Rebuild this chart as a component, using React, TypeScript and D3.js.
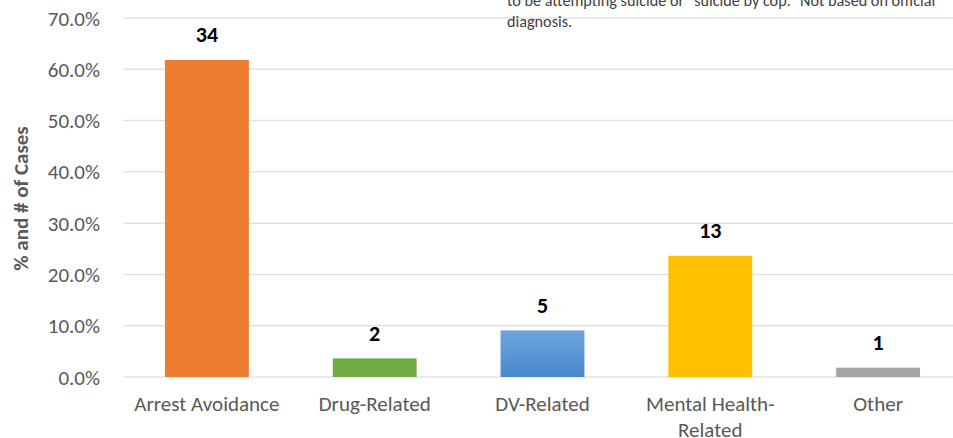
import React from "react";
import * as d3 from "d3";

const categories = ["Arrest Avoidance", "Drug-Related", "DV-Related", "Mental Health-Related", "Other"];
const categoryLines = [["Arrest Avoidance"], ["Drug-Related"], ["DV-Related"], ["Mental Health-", "Related"], ["Other"]];
const counts = [34, 2, 5, 13, 1];
const totalCases = 55;
const percents = counts.map((c) => (c / totalCases) * 100);
const yTicks = [0, 10, 20, 30, 40, 50, 60, 70];
const barColors = ["#ED7D31", "#70AD47", "url(#blueGrad)", "#FFC000", "#A5A5A5"];
const noteLines = ["to be attempting suicide or \u201Csuicide by cop.\u201D  Not based on official", "diagnosis."];
const yTitle = "% and # of Cases";

const W = 953;
const H = 438;
const FONT = "Carlito, Calibri, Lato, sans-serif";

export default function App() {
  const x = d3.scaleBand<string>().domain(categories).range([123, 962]).paddingInner(0.5).paddingOuter(0.25);
  const y = d3.scaleLinear().domain([0, 70]).range([377, 18]);

  return (
    <svg width={W} height={H} style={{ position: "absolute", left: 0, top: 0, background: "#fff" }}>
      <defs>
        <linearGradient id="blueGrad" x1="0" y1="0" x2="0" y2="1">
          <stop offset="0" stopColor="#6FA6DC" />
          <stop offset="1" stopColor="#4888CD" />
        </linearGradient>
      </defs>
      <rect x={0} y={0} width={W} height={H} fill="#fff" />
      {yTicks.map((t) => (
        <g key={t}>
          <line x1={123} x2={W} y1={y(t)} y2={y(t)} stroke="#DFE2E6" strokeWidth={1.5} />
          <text x={100} y={y(t)} dy="0.36em" textAnchor="end" fontFamily={FONT} fontSize={21} fill="#595959">
            {t.toFixed(1) + "%"}
          </text>
        </g>
      ))}
      {categories.map((c, i) => (
        <g key={c}>
          <rect x={x(c)} y={y(percents[i])} width={x.bandwidth()} height={y(0) - y(percents[i])} fill={barColors[i]} />
          <text x={(x(c) as number) + x.bandwidth() / 2} y={y(percents[i]) - 17.5} textAnchor="middle" fontFamily={FONT} fontSize={22} fontWeight="bold" fill="#000">
            {counts[i]}
          </text>
          {categoryLines[i].map((ln, j) => (
            <text key={j} x={(x(c) as number) + x.bandwidth() / 2} y={403.5 + j * 25.5} dy="0.36em" textAnchor="middle" fontFamily={FONT} fontSize={21} fill="#595959">
              {ln}
            </text>
          ))}
        </g>
      ))}
      <text transform="translate(28,198.5) rotate(-90)" textAnchor="middle" fontFamily={FONT} fontSize={21} fontWeight="bold" fill="#595959">
        {yTitle}
      </text>
      {noteLines.map((ln, i) => (
        <text key={i} x={507} y={6 + i * 20.5} fontFamily={FONT} fontSize={16.2} fill="#404040">
          {ln}
        </text>
      ))}
    </svg>
  );
}
